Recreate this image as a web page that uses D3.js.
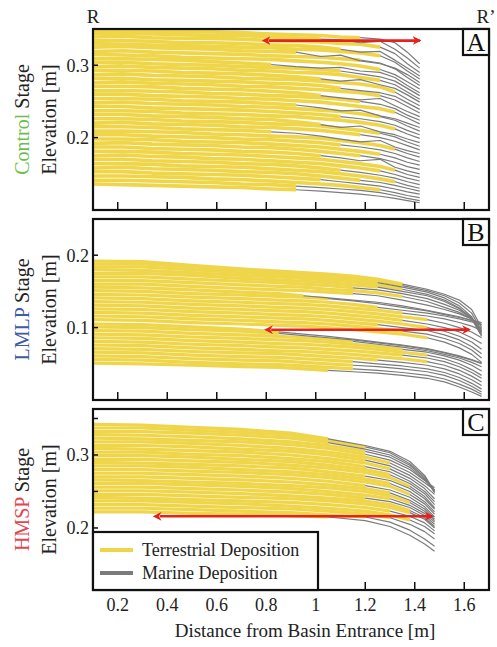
<!DOCTYPE html>
<html><head><meta charset="utf-8">
<script src="https://cdn.jsdelivr.net/npm/d3@7"></script>
<style>body{margin:0;background:#fff}</style>
</head><body><svg id="c" width="497" height="647"></svg>
<script>
// ---- data ----
const xTicks = [0.2,0.4,0.6,0.8,1,1.2,1.4,1.6];
const xTickLabels = ["0.2","0.4","0.6","0.8","1","1.2","1.4","1.6"];
const legendLabels = ["Terrestrial Deposition","Marine Deposition"];
const stageNames = ["Control","LMLP","HMSP"];
const panelLetters = ["A","B","C"];

// Control stage: x stations [m]; surface elevations [mm]; shore = index of last terrestrial station
const gridA = [0.1,0.22,0.34,0.46,0.58,0.7,0.82,0.92,1.02,1.1,1.18,1.26,1.32,1.37,1.42];
const surfA = [
 [347,348,347,346,346,345,343,342,341,339,338,336,331,318,302],
 [344,344,343,342,341,341,339,338,336,335,331,333,322,310,296],
 [339,340,338,337,337,336,334,333,332,330,329,325,316,302,290],
 [334,334,333,331,331,330,328,327,325,322,318,319,307,296,285],
 [330,329,328,327,326,325,324,322,321,319,317,313,304,292,281],
 [325,326,324,323,322,320,319,318,312,314,306,302,296,287,276],
 [319,320,318,317,316,315,313,312,311,309,307,303,295,283,272],
 [315,314,313,311,310,309,308,306,304,302,299,294,287,277,267],
 [309,309,308,307,305,303,301,298,296,297,292,290,283,272,262],
 [304,304,302,301,300,298,297,296,294,292,288,284,278,268,258],
 [298,299,297,296,295,293,292,290,289,287,283,279,273,263,253],
 [293,293,292,290,289,288,286,284,281,278,280,273,268,259,249],
 [287,288,286,285,284,282,281,280,278,276,274,270,263,253,244],
 [282,282,280,279,278,277,275,274,272,268,265,262,257,248,239],
 [276,277,275,274,273,271,270,268,266,264,262,258,252,243,234],
 [271,271,270,268,267,266,264,262,258,255,252,254,244,236,229],
 [265,265,264,263,261,260,258,257,255,253,250,246,240,231,224],
 [260,260,258,257,256,254,253,251,249,246,243,240,235,227,219],
 [254,254,253,251,250,249,247,245,241,237,238,230,226,220,214],
 [248,249,247,246,245,243,242,240,238,236,233,229,224,216,209],
 [243,243,241,240,239,238,236,234,232,229,226,222,217,210,204],
 [237,237,236,234,233,232,230,229,226,224,221,217,212,205,199],
 [232,232,230,229,228,226,225,222,218,214,216,208,204,198,193],
 [226,226,225,223,222,221,219,218,216,213,210,206,201,194,188],
 [220,221,219,218,217,215,214,212,210,207,204,200,195,189,183],
 [215,215,214,212,211,210,208,206,202,198,194,196,187,182,178],
 [209,209,208,207,205,204,202,201,199,196,193,189,184,178,173],
 [204,204,202,201,200,198,197,195,193,190,187,183,178,172,167],
 [198,198,197,195,194,193,191,189,187,184,181,177,172,166,162],
 [192,193,191,190,189,187,186,184,181,178,175,171,166,160,156],
 [187,187,185,184,183,181,180,178,175,172,168,170,159,154,150],
 [181,181,180,178,177,176,174,172,170,167,164,160,155,149,145],
 [175,176,174,173,171,170,168,166,164,161,158,154,149,144,140],
 [170,170,168,167,166,164,163,161,158,155,152,148,144,139,135],
 [164,164,163,161,160,159,157,155,153,150,147,143,139,134,130],
 [158,159,157,156,155,153,152,150,147,144,141,138,134,130,126],
 [153,153,151,150,149,148,146,144,142,139,136,133,129,125,122],
 [147,147,146,145,143,142,140,138,136,134,131,128,124,120,117],
 [141,141,140,139,138,136,135,133,131,129,127,124,120,116,113],
 [136,135,134,133,132,131,129,128,126,124,122,119,116,113,110]
];
const shoreA = [10,8,11,9,11,7,10,11,6,9,11,8,12,9,11,8,10,12,7,11,9,12,8,11,10,6,12,9,11,10,8,12,11,9,12,10,8,11,7,7];

// LMLP stage
const gridB = [0.1,0.3,0.5,0.7,0.85,0.95,1.05,1.15,1.25,1.35,1.45,1.52,1.58,1.63,1.67];
const surfB = [
 [192,191,186,181,178,176,174,171,167,160,153,146,138,125,100],
 [188,188,184,179,176,174,172,169,165,158,151,144,134,120,96],
 [184,184,180,176,173,171,169,166,162,156,149,141,130,115,92],
 [180,179,176,172,170,168,166,163,159,153,146,138,127,112,88],
 [175,175,172,168,166,164,162,159,156,150,144,136,126,114,90],
 [170,170,167,164,162,160,158,155,152,147,140,132,124,113,94],
 [165,165,162,159,157,156,153,151,148,143,136,128,121,112,98],
 [160,160,157,154,152,151,149,147,144,138,131,125,119,112,104],
 [156,155,152,149,147,144,141,138,135,130,124,119,115,110,106],
 [151,150,147,145,143,142,140,137,133,128,123,118,114,110,107],
 [146,145,142,140,138,137,135,132,128,124,120,116,112,108,104],
 [141,140,137,135,133,132,130,127,124,120,116,112,107,102,96],
 [136,135,132,130,128,127,125,122,119,115,111,106,100,94,86],
 [131,130,127,125,123,122,120,117,114,110,105,100,94,86,78],
 [126,125,122,120,118,117,115,112,109,105,100,95,88,80,70],
 [121,120,117,115,113,112,110,107,104,100,96,90,83,74,64],
 [116,115,112,110,108,107,105,102,99,95,91,85,78,69,58],
 [111,110,107,105,103,102,100,97,94,91,86,80,72,63,52],
 [105,104,101,98,94,91,88,84,80,76,71,66,61,56,51],
 [101,100,97,95,92,89,86,83,79,75,70,65,60,55,50],
 [96,95,92,90,88,86,84,81,77,73,68,63,58,52,46],
 [91,90,87,85,83,82,80,77,74,70,66,61,55,48,40],
 [86,85,82,80,78,77,75,73,70,66,62,57,50,42,34],
 [81,80,77,75,73,72,70,68,65,62,58,53,46,38,30],
 [76,75,72,70,68,67,65,63,60,57,53,48,41,33,25],
 [71,70,67,65,64,62,60,58,55,52,48,43,36,28,20],
 [66,65,62,60,59,57,55,53,50,47,43,38,31,23,15],
 [61,60,57,55,54,52,50,48,46,43,39,34,27,19,11],
 [56,55,52,50,49,47,45,43,41,38,34,29,22,15,8],
 [51,50,48,46,45,43,41,39,37,34,30,25,18,11,5]
];
const shoreB = [9,9,8,9,8,7,9,7,5,6,8,9,10,9,10,8,9,10,4,4,7,9,10,9,10,8,7,7,7,6];

// HMSP stage
const gridC = [0.1,0.3,0.5,0.7,0.9,1.05,1.2,1.3,1.38,1.44,1.48];
const surfC = [
 [342,341,338,335,330,322,313,305,291,272,250],
 [337,337,334,331,327,320,311,303,288,270,248],
 [332,332,330,327,323,317,308,300,286,268,250],
 [328,327,325,322,318,313,305,297,283,266,252],
 [323,322,320,318,314,309,301,293,280,265,255],
 [318,318,316,313,309,304,297,289,276,262,252],
 [313,313,311,308,305,300,293,285,272,258,246],
 [309,308,306,304,300,295,289,281,268,254,240],
 [304,304,301,299,295,291,284,277,264,250,236],
 [299,299,297,294,291,286,280,273,261,247,232],
 [294,294,292,290,286,282,276,269,257,243,228],
 [290,289,287,285,282,277,271,265,254,240,226],
 [285,285,283,280,277,273,267,261,250,236,222],
 [280,280,278,276,273,269,263,257,246,233,219],
 [275,275,273,271,268,264,258,252,242,229,215],
 [270,270,268,266,263,259,254,248,238,226,212],
 [266,265,263,261,258,255,250,244,235,223,210],
 [261,261,259,257,254,250,245,240,231,220,208],
 [256,256,254,252,249,246,241,236,228,217,205],
 [251,251,249,247,244,241,237,232,224,214,202],
 [246,246,244,242,240,237,233,228,221,212,200],
 [242,241,239,237,235,232,228,223,216,207,196],
 [237,237,235,233,230,227,223,218,211,202,192],
 [232,232,230,228,226,223,219,214,205,195,185],
 [227,227,225,223,221,218,215,208,197,185,175],
 [222,222,220,219,217,215,210,202,190,178,168]
];
const shoreC = [5,6,5,6,6,7,6,7,6,7,8,6,7,8,6,7,8,7,6,8,8,7,8,7,6,5];

// shoreline-migration arrows (from, to [m], elevation [m])
const arrowFrom = [0.81,0.82,0.37];
const arrowTo   = [1.42,1.62,1.47];
const arrowElev = [0.334,0.097,0.216];

const yDomains = [[0.1,0.35],[0,0.25],[0.115,0.363]];
const yTickVals = [[0.2,0.3],[0.1,0.2],[0.2,0.25,0.3,0.35]];
const yTickLabelVals = [[0.2,0.3],[0.1,0.2],[0.2,0.3]];

// ---- drawing ----
const svg = d3.select("#c");
const FONT = "'Liberation Serif','Times New Roman',serif";
const YEL = "#efd54a", GRAY = "#7b7b7b", RED = "#e5231c";
const L = 93, R = 489;
const tops = [29,219,409], bots = [210,400,590];
const stageColors = ["#6cbf4e","#3f5ba6","#e5454e"];
const grids = [gridA,gridB,gridC], surfs=[surfA,surfB,surfC], shores=[shoreA,shoreB,shoreC];

const x = d3.scaleLinear().domain([0.1,1.7]).range([L,R]);

const defs = svg.append("defs");
["s","e"].forEach(k=>{
  defs.append("marker").attr("id","ah"+k).attr("viewBox","0 0 10 10").attr("refX",k==="e"?8:2).attr("refY",5)
    .attr("markerWidth",3.4).attr("markerHeight",3.4).attr("orient","auto-start-reverse").attr("markerUnits","strokeWidth")
    .append("path").attr("d","M0,0 L10,5 L0,10 L3,5 Z").attr("fill",RED);
});

for (let p=0;p<3;p++){
  const y = d3.scaleLinear().domain(yDomains[p]).range([bots[p],tops[p]]);
  const g = svg.append("g");
  const cid = "clip"+p;
  defs.append("clipPath").attr("id",cid).append("rect").attr("x",L).attr("y",tops[p]).attr("width",R-L).attr("height",bots[p]-tops[p]);
  const plot = g.append("g").attr("clip-path",`url(#${cid})`);
  const line = d3.line().x(d=>x(d[0])).y(d=>y(d[1]/1000));
  const grid = grids[p];
  const terr = surfs[p].map((s,i)=>s.slice(0,shores[p][i]+1).map((v,j)=>[grid[j],v]));
  const mar = surfs[p].map((s,i)=>s.map((v,j)=>[grid[j],v]).slice(shores[p][i]));
  plot.selectAll(".t").data(terr).join("path").attr("d",line).attr("fill","none")
    .attr("stroke",YEL).attr("stroke-width",p===0?3.6:3.2).attr("stroke-linejoin","round");
  plot.selectAll(".m").data(mar).join("path").attr("d",line).attr("fill","none")
    .attr("stroke",GRAY).attr("stroke-width",1.2).attr("stroke-linejoin","round");

  // arrow
  plot.append("line").attr("x1",x(arrowFrom[p])).attr("x2",x(arrowTo[p])).attr("y1",y(arrowElev[p])).attr("y2",y(arrowElev[p]))
    .attr("stroke",RED).attr("stroke-width",2.6).attr("marker-start","url(#ahs)").attr("marker-end","url(#ahe)");

  // ticks
  g.selectAll(".xt").data(xTicks).join("line").attr("x1",d=>x(d)).attr("x2",d=>x(d))
    .attr("y1",bots[p]).attr("y2",bots[p]-8).attr("stroke","#111").attr("stroke-width",1.5);
  g.selectAll(".yt").data(yTickVals[p]).join("line").attr("x1",L).attr("x2",L+5)
    .attr("y1",d=>y(d)).attr("y2",d=>y(d)).attr("stroke","#111").attr("stroke-width",1.5);
  g.selectAll(".yl").data(yTickLabelVals[p]).join("text").attr("x",L-4).attr("y",d=>y(d)).attr("dy","0.35em")
    .attr("text-anchor","end").attr("font-family",FONT).attr("font-size",18).attr("fill","#222").text(d=>d3.format(".1f")(d));

  // frame
  g.append("rect").attr("x",L).attr("y",tops[p]).attr("width",R-L).attr("height",bots[p]-tops[p])
    .attr("fill","none").attr("stroke","#111").attr("stroke-width",2.2);

  // letter box
  g.append("rect").attr("x",R-26).attr("y",tops[p]).attr("width",26).attr("height",26)
    .attr("fill","#fff").attr("stroke","#111").attr("stroke-width",2.2);
  g.append("text").attr("x",R-13).attr("y",tops[p]+22).attr("text-anchor","middle").attr("font-family",FONT)
    .attr("font-size",26).attr("fill","#111").text(panelLetters[p]);

  // y label
  const cy = (tops[p]+bots[p])/2;
  const t1 = svg.append("text").attr("transform",`translate(29,${cy}) rotate(-90)`).attr("text-anchor","middle")
    .attr("font-family",FONT).attr("font-size",20).attr("fill","#222");
  t1.append("tspan").attr("fill",stageColors[p]).text(stageNames[p]);
  t1.append("tspan").text(" Stage");
  svg.append("text").attr("transform",`translate(56,${cy}) rotate(-90)`).attr("text-anchor","middle")
    .attr("font-family",FONT).attr("font-size",20).attr("fill","#222").text("Elevation [m]");
}

// x tick labels
svg.selectAll(".xl").data(xTicks).join("text").attr("x",d=>x(d)).attr("y",611).attr("text-anchor","middle")
  .attr("font-family",FONT).attr("font-size",18).attr("fill","#222").text((d,i)=>xTickLabels[i]);
svg.append("text").attr("x",305).attr("y",637).attr("text-anchor","middle").attr("font-family",FONT)
  .attr("font-size",19).attr("fill","#222").text("Distance from Basin Entrance [m]");

// R labels
svg.append("text").attr("x",93).attr("y",23).attr("text-anchor","middle").attr("font-family",FONT).attr("font-size",19).attr("fill","#222").text("R");
svg.append("text").attr("x",486).attr("y",23).attr("text-anchor","middle").attr("font-family",FONT).attr("font-size",19).attr("fill","#222").text("R’");

// legend
const lg = svg.append("g");
lg.append("rect").attr("x",L).attr("y",532).attr("width",225).attr("height",58).attr("fill","#fff").attr("stroke","#111").attr("stroke-width",2.2);
[YEL,GRAY].forEach((c,i)=>{
  lg.append("line").attr("x1",100).attr("x2",133).attr("y1",550+i*23).attr("y2",550+i*23).attr("stroke",c).attr("stroke-width",4);
  lg.append("text").attr("x",142).attr("y",556+i*23).attr("font-family",FONT).attr("font-size",18).attr("fill","#222").text(legendLabels[i]);
});
</script></body></html>
